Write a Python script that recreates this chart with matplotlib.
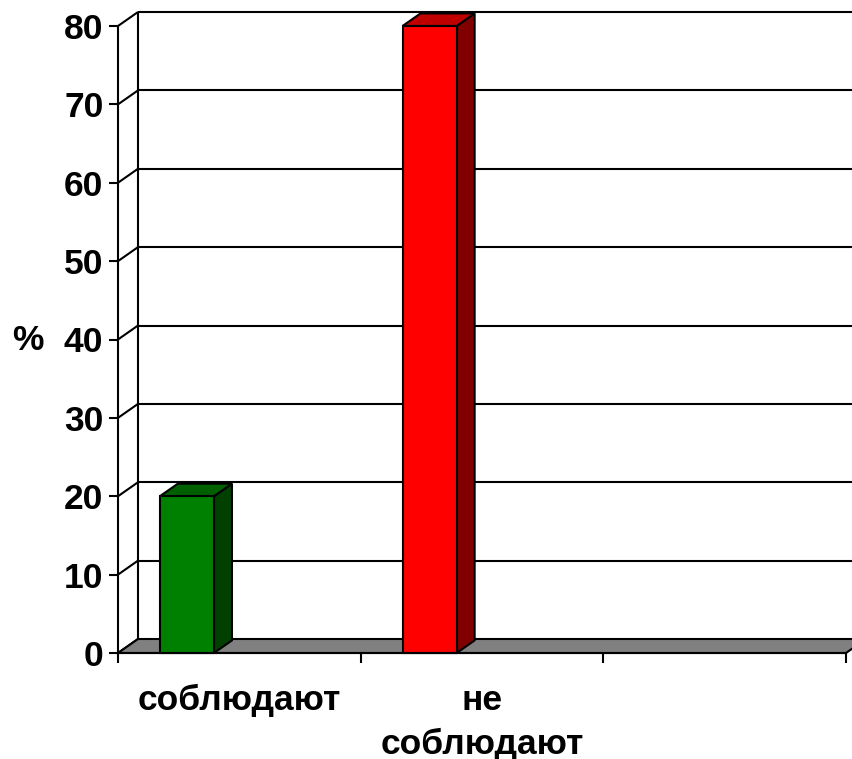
import numpy as np
import matplotlib
matplotlib.use("Agg")
import matplotlib.pyplot as plt
from matplotlib.patches import Polygon
from matplotlib.transforms import IdentityTransform

# ---- data ----
categories = ["соблюдают", "не\nсоблюдают", ""]
values = [20, 80, None]
bar_colors = ["#008000", "#FF0000", None]
side_colors = ["#004000", "#800000", None]
top_colors = ["#006000", "#C00000", None]
y_ticks = [0, 10, 20, 30, 40, 50, 60, 70, 80]

plt.rcParams['font.family'] = ['Liberation Sans', 'DejaVu Sans']
plt.rcParams['font.weight'] = 'bold'

W, H = 853, 759
FS = 25.5
fig = plt.figure(figsize=(W / 100, H / 100), dpi=100)
fig.patch.set_facecolor("white")
ax = fig.add_axes([118 / W, (H - 653) / H, (846 - 118) / W, (653 - 26) / H])
ax.set_xlim(0, 3)
ax.set_ylim(0, 80)
ax.patch.set_visible(False)

LW = 1.5
DX, DY = 20.0, 14.0  # depth offset in pixels


def P(x, y, d=1.0):
    px = ax.transData.transform((x, y))
    return (px[0] + d * DX, px[1] + d * DY)


def addpoly(pts, fc, z, lw=LW):
    ax.add_patch(Polygon(pts, closed=True, facecolor=fc, edgecolor="black",
                         linewidth=lw, transform=IdentityTransform(),
                         zorder=z, joinstyle="miter", clip_on=False))


def addline(p1, p2, z):
    ax.add_line(plt.Line2D([p1[0], p2[0]], [p1[1], p2[1]], color="black",
                           linewidth=LW, transform=IdentityTransform(),
                           zorder=z, solid_capstyle="butt", clip_on=False))


# back wall gridlines and side-wall diagonals
for t in y_ticks[1:]:
    addline(P(0, t), P(3, t), 1)
for t in y_ticks:
    addline(P(0, t, 0), P(0, t), 1)
addline(P(0, 0), P(0, 80), 1)

# floor
addpoly([P(0, 0, 0), P(3, 0, 0), P(3, 0), P(0, 0)], "#808080", 2)

# bars
bar_offset = -0.216
bar_w = 0.223
bd = 0.9
for i, v in enumerate(values):
    if v is None:
        continue
    xc = i + 0.5 + bar_offset
    ax.bar([xc], [v], width=bar_w, color=bar_colors[i], edgecolor="black",
           linewidth=LW, zorder=5, clip_on=False)
    x0, x1 = xc - bar_w / 2, xc + bar_w / 2
    addpoly([P(x1, 0, 0), P(x1, 0, bd), P(x1, v, bd), P(x1, v, 0)], side_colors[i], 4)
    addpoly([P(x0, v, 0), P(x1, v, 0), P(x1, v, bd), P(x0, v, bd)], top_colors[i], 4)

# axes styling
for s in ["top", "right"]:
    ax.spines[s].set_visible(False)
ax.spines["left"].set_linewidth(LW)
ax.spines["bottom"].set_linewidth(LW)
ax.spines["left"].set_zorder(6)
ax.spines["bottom"].set_zorder(6)

ax.set_yticks(y_ticks)
ax.set_yticklabels([str(t) for t in y_ticks])
ax.tick_params(axis="y", direction="out", length=6.5, width=LW, pad=4,
               labelsize=FS)
ax.set_xticks([0.5, 1.5, 2.5])
ax.set_xticklabels(categories, linespacing=1.42)
ax.set_xticks([0, 1, 2, 3], minor=True)
ax.tick_params(axis="x", which="major", length=0, pad=22, labelsize=FS)
ax.tick_params(axis="x", which="minor", direction="out", length=7.5, width=LW)
for lab in ax.get_xticklabels() + ax.get_yticklabels():
    lab.set_fontweight("bold")

fig.text(28 / W, 1 - 341 / H, "%", ha="center", va="center", fontsize=FS,
         fontweight="bold")

fig.savefig("out.png", dpi=100, facecolor="white")
